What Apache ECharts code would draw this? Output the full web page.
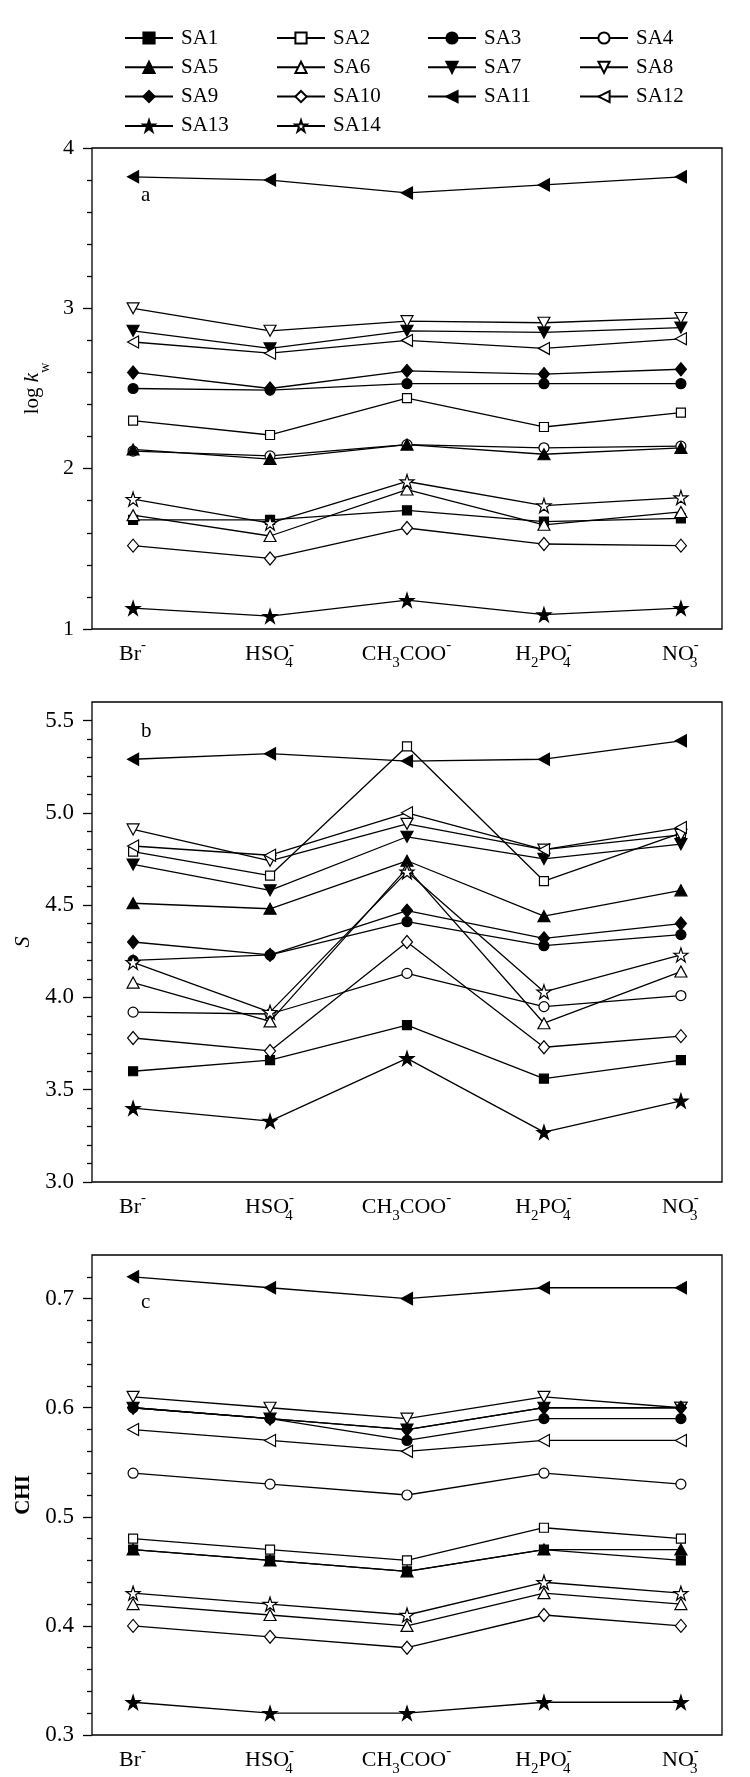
<!DOCTYPE html>
<html>
<head>
<meta charset="utf-8">
<script src="https://cdn.jsdelivr.net/npm/echarts@6/dist/echarts.min.js"></script>
<style>
  html, body { margin: 0; padding: 0; background: #fff; }
  #chart { width: 750px; height: 1777px; }
</style>
</head>
<body>
<div id="chart"></div>
<script>
// series + categories
const seriesNames = ['SA1', 'SA2', 'SA3', 'SA4', 'SA5', 'SA6', 'SA7', 'SA8', 'SA9', 'SA10', 'SA11', 'SA12', 'SA13', 'SA14'];
const anions = ['Br-', 'HSO4-', 'CH3COO-', 'H2PO4-', 'NO3-'];
const anionPos = [1, 2, 3, 4, 5];
const anionLabels = [
  '{b|Br}{sup|-}',
  '{b|HSO}{subz|4}{sup|-}',
  '{b|CH}{sub|3}{b|COO}{sup|-}',
  '{b|H}{sub|2}{b|PO}{subz|4}{sup|-}',
  '{b|NO}{subz|3}{sup|-}'
];

// tick labels
const yTicksA = [1, 2, 3, 4];
const yTicksB = [3.0, 3.5, 4.0, 4.5, 5.0, 5.5];
const yTicksC = [0.3, 0.4, 0.5, 0.6, 0.7];

// (a) log kw
const kwSA1 = [1.68, 1.68, 1.74, 1.67, 1.69];
const kwSA2 = [2.30, 2.21, 2.44, 2.26, 2.35];
const kwSA3 = [2.50, 2.49, 2.53, 2.53, 2.53];
const kwSA4 = [2.11, 2.08, 2.15, 2.13, 2.14];
const kwSA5 = [2.12, 2.06, 2.15, 2.09, 2.13];
const kwSA6 = [1.71, 1.58, 1.87, 1.65, 1.73];
const kwSA7 = [2.86, 2.75, 2.86, 2.85, 2.88];
const kwSA8 = [3.00, 2.86, 2.92, 2.91, 2.94];
const kwSA9 = [2.60, 2.50, 2.61, 2.59, 2.62];
const kwSA10 = [1.52, 1.44, 1.63, 1.53, 1.52];
const kwSA11 = [3.82, 3.80, 3.72, 3.77, 3.82];
const kwSA12 = [2.79, 2.72, 2.80, 2.75, 2.81];
const kwSA13 = [1.13, 1.08, 1.18, 1.09, 1.13];
const kwSA14 = [1.81, 1.66, 1.92, 1.77, 1.82];

// (b) S
const sSA1 = [3.60, 3.66, 3.85, 3.56, 3.66];
const sSA2 = [4.79, 4.66, 5.36, 4.63, 4.89];
const sSA3 = [4.20, 4.23, 4.41, 4.28, 4.34];
const sSA4 = [3.92, 3.91, 4.13, 3.95, 4.01];
const sSA5 = [4.51, 4.48, 4.74, 4.44, 4.58];
const sSA6 = [4.08, 3.87, 4.70, 3.86, 4.14];
const sSA7 = [4.72, 4.58, 4.87, 4.75, 4.83];
const sSA8 = [4.91, 4.74, 4.94, 4.80, 4.88];
const sSA9 = [4.30, 4.23, 4.47, 4.32, 4.40];
const sSA10 = [3.78, 3.71, 4.30, 3.73, 3.79];
const sSA11 = [5.29, 5.32, 5.28, 5.29, 5.39];
const sSA12 = [4.82, 4.77, 5.00, 4.80, 4.92];
const sSA13 = [3.40, 3.33, 3.67, 3.27, 3.44];
const sSA14 = [4.19, 3.92, 4.68, 4.03, 4.23];

// (c) CHI
const chiSA1 = [0.47, 0.46, 0.45, 0.47, 0.46];
const chiSA2 = [0.48, 0.47, 0.46, 0.49, 0.48];
const chiSA3 = [0.60, 0.59, 0.57, 0.59, 0.59];
const chiSA4 = [0.54, 0.53, 0.52, 0.54, 0.53];
const chiSA5 = [0.47, 0.46, 0.45, 0.47, 0.47];
const chiSA6 = [0.42, 0.41, 0.40, 0.43, 0.42];
const chiSA7 = [0.60, 0.59, 0.58, 0.60, 0.60];
const chiSA8 = [0.61, 0.60, 0.59, 0.61, 0.60];
const chiSA9 = [0.60, 0.59, 0.58, 0.60, 0.60];
const chiSA10 = [0.40, 0.39, 0.38, 0.41, 0.40];
const chiSA11 = [0.72, 0.71, 0.70, 0.71, 0.71];
const chiSA12 = [0.58, 0.57, 0.56, 0.57, 0.57];
const chiSA13 = [0.33, 0.32, 0.32, 0.33, 0.33];
const chiSA14 = [0.43, 0.42, 0.41, 0.44, 0.43];

const kwRows = [kwSA1, kwSA2, kwSA3, kwSA4, kwSA5, kwSA6, kwSA7, kwSA8, kwSA9, kwSA10, kwSA11, kwSA12, kwSA13, kwSA14];
const sRows = [sSA1, sSA2, sSA3, sSA4, sSA5, sSA6, sSA7, sSA8, sSA9, sSA10, sSA11, sSA12, sSA13, sSA14];
const chiRows = [chiSA1, chiSA2, chiSA3, chiSA4, chiSA5, chiSA6, chiSA7, chiSA8, chiSA9, chiSA10, chiSA11, chiSA12, chiSA13, chiSA14];

const FONT = 'Liberation Serif';
const STAR = 'path://M0,-10L2.25,-3.09L9.51,-3.09L3.63,1.18L5.88,8.09L0,3.82L-5.88,8.09L-3.63,1.18L-9.51,-3.09L-2.25,-3.09Z';

// marker styles, SA1..SA14
const symbols = ['rect', 'rect', 'circle', 'circle', 'triangle', 'triangle', 'triangle', 'triangle',
  'diamond', 'diamond', 'triangle', 'triangle', STAR, STAR];
const rotates = [0, 0, 0, 0, 0, 0, 180, 180, 0, 0, 90, 90, 0, 0];
const sizes = [9, 9, 10, 10, [12, 11], [12, 11], [12, 11], [12, 11], [11, 13], [11, 13], [12, 11], [12, 11], 14, 14];

const labelRich = {
  b: { fontFamily: FONT, fontSize: 22, lineHeight: 23, padding: [5, 0, 0, 0], verticalAlign: 'top', color: '#000' },
  sub: { fontFamily: FONT, fontSize: 15, lineHeight: 15, padding: [18, 0, 0, 0], verticalAlign: 'top', color: '#000' },
  subz: { fontFamily: FONT, fontSize: 15, lineHeight: 15, padding: [18, 0, 0, 0], width: 0, verticalAlign: 'top', color: '#000' },
  sup: { fontFamily: FONT, fontSize: 15, lineHeight: 15, padding: [0, 1, 0, 0], verticalAlign: 'top', color: '#000' }
};

const panels = [
  { rows: kwRows, min: 1, max: 4, interval: 1, ticks: yTicksA, digits: 0, top: 148, height: 481, letter: 'a',
    name: '{t|log }{k|k}{w|w}', nameGap: 37, tickFont: 22 },
  { rows: sRows, min: 3.0, max: 5.6, interval: 0.5, ticks: yTicksB, digits: 1, top: 702, height: 480, letter: 'b',
    name: '{s|S}', nameGap: 54, tickFont: 23 },
  { rows: chiRows, min: 0.3, max: 0.74, interval: 0.1, ticks: yTicksC, digits: 1, top: 1255, height: 480, letter: 'c',
    name: '{c|CHI}', nameGap: 57, tickFont: 23 }
];

const nameRich = {
  t: { fontFamily: FONT, fontSize: 21, lineHeight: 22, verticalAlign: 'top', color: '#000' },
  k: { fontFamily: FONT, fontSize: 21, lineHeight: 22, fontStyle: 'italic', verticalAlign: 'top', color: '#000' },
  w: { fontFamily: FONT, fontSize: 14, lineHeight: 14, padding: [16, 0, 0, 0], verticalAlign: 'top', color: '#000' },
  s: { fontFamily: FONT, fontSize: 22, lineHeight: 22, fontStyle: 'italic', color: '#000' },
  c: { fontFamily: FONT, fontSize: 21, lineHeight: 22, fontWeight: 'bold', color: '#000' }
};

const tickLine = { color: '#000', width: 1.3 };

const grid = [];
const xAxis = [];
const yAxis = [];
const series = [];
const graphic = [];

panels.forEach((p, pi) => {
  grid.push({
    left: 92, right: 28, top: p.top, height: p.height,
    show: true, borderColor: '#000', borderWidth: 1.3, backgroundColor: 'transparent'
  });
  xAxis.push({
    type: 'value', gridIndex: pi, min: 0.7, max: 5.3,
    axisLine: { show: false }, axisTick: { show: false }, splitLine: { show: false },
    axisLabel: {
      customValues: anionPos,
      formatter: v => anionLabels[Math.round(v) - 1],
      margin: 9,
      rich: labelRich
    }
  });
  yAxis.push({
    type: 'value', gridIndex: pi, min: p.min, max: p.max, interval: p.interval,
    axisLine: { show: false }, splitLine: { show: false },
    axisTick: { show: true, length: 9, customValues: p.ticks, lineStyle: tickLine },
    minorTick: { show: true, splitNumber: 5, length: 5, lineStyle: tickLine },
    axisLabel: {
      customValues: p.ticks,
      formatter: v => v.toFixed(p.digits),
      margin: 18, fontFamily: FONT, fontSize: p.tickFont, color: '#000'
    },
    name: p.name, nameLocation: 'middle', nameGap: p.nameGap, nameRotate: 90,
    nameTextStyle: { rich: nameRich }
  });
  p.rows.forEach((row, si) => {
    const open = si % 2 === 1;
    series.push({
      type: 'line', name: seriesNames[si], xAxisIndex: pi, yAxisIndex: pi,
      data: row.map((v, j) => [anionPos[j], v]),
      symbol: symbols[si], symbolSize: sizes[si], symbolRotate: rotates[si],
      lineStyle: { color: '#000', width: 1.3 },
      itemStyle: { color: open ? '#fff' : '#000', borderColor: '#000', borderWidth: 1.2 },
      emphasis: { disabled: true },
      silent: true
    });
  });
  graphic.push({
    type: 'text', left: 141, top: p.top + (pi === 0 ? 37 : pi === 1 ? 19 : 37),
    style: { text: p.letter, font: '21px "Liberation Serif"', fill: '#000' }
  });
});

const legendCols = [
  ['SA1', 'SA5', 'SA9', 'SA13'],
  ['SA2', 'SA6', 'SA10', 'SA14'],
  ['SA3', 'SA7', 'SA11'],
  ['SA4', 'SA8', 'SA12']
];
const legendLeft = [124, 276, 427, 579];

const legend = legendCols.map((col, i) => ({
  orient: 'vertical', left: legendLeft[i], top: 27, padding: 0,
  data: col, itemWidth: 48, itemHeight: 14, itemGap: 7.3, selectedMode: false,
  textStyle: { fontFamily: FONT, fontSize: 21, lineHeight: 22, color: '#000', padding: [0, 0, 0, 3] }
}));

const chart = echarts.init(document.getElementById('chart'), null, { renderer: 'canvas' });
chart.setOption({
  animation: false,
  backgroundColor: '#fff',
  grid, xAxis, yAxis, legend, series, graphic
});
</script>
</body>
</html>
